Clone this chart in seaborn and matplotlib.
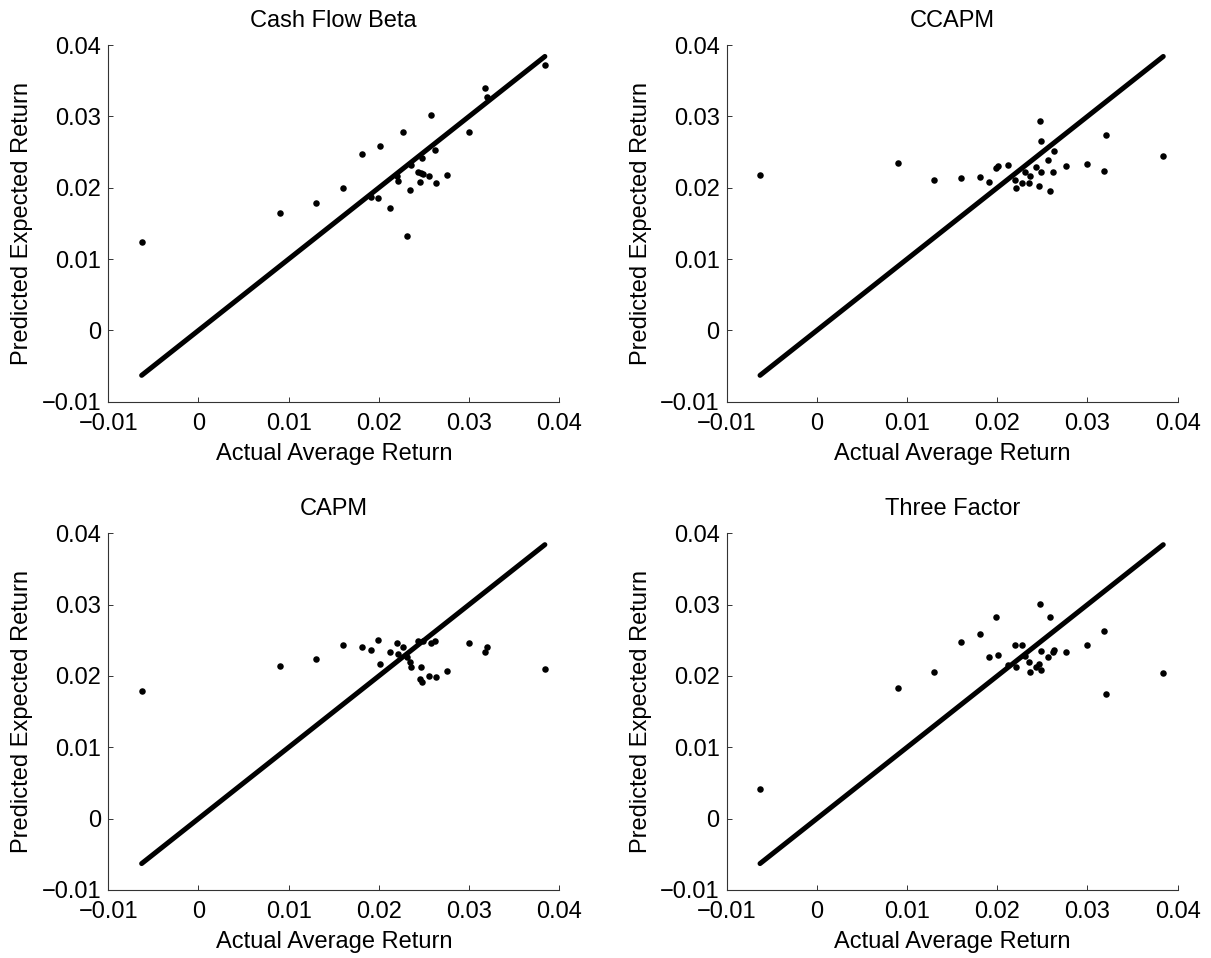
import numpy as np
import pandas as pd
import seaborn as sns
import matplotlib.pyplot as plt

# actual average returns (same portfolios in every panel)
actual = [-0.0063, 0.0090, 0.0130, 0.0160, 0.0181, 0.0191, 0.0199, 0.0201, 0.0212, 0.0220,
          0.0221, 0.0227, 0.0231, 0.0235, 0.0236, 0.0243, 0.0246, 0.0247, 0.0248, 0.0249,
          0.0256, 0.0258, 0.0262, 0.0263, 0.0276, 0.0300, 0.0318, 0.0320, 0.0384]

# predicted expected returns by model
cash_flow_beta = [0.0124, 0.0164, 0.0178, 0.0199, 0.0247, 0.0187, 0.0186, 0.0258, 0.0172, 0.0216,
                  0.0209, 0.0278, 0.0132, 0.0197, 0.0232, 0.0222, 0.0208, 0.0220, 0.0241, 0.0219,
                  0.0216, 0.0302, 0.0253, 0.0206, 0.0218, 0.0278, 0.0340, 0.0327, 0.0372]
ccapm = [0.0218, 0.0234, 0.0211, 0.0213, 0.0215, 0.0208, 0.0227, 0.0230, 0.0232, 0.0211,
         0.0200, 0.0207, 0.0222, 0.0206, 0.0216, 0.0229, 0.0203, 0.0293, 0.0222, 0.0265,
         0.0239, 0.0196, 0.0222, 0.0252, 0.0230, 0.0233, 0.0223, 0.0274, 0.0244]
capm = [0.0179, 0.0214, 0.0224, 0.0244, 0.0241, 0.0236, 0.0250, 0.0217, 0.0233, 0.0246,
        0.0231, 0.0240, 0.0227, 0.0220, 0.0213, 0.0249, 0.0196, 0.0212, 0.0192, 0.0249,
        0.0200, 0.0246, 0.0249, 0.0199, 0.0207, 0.0246, 0.0234, 0.0240, 0.0210]
three_factor = [0.0042, 0.0183, 0.0205, 0.0248, 0.0259, 0.0227, 0.0282, 0.0229, 0.0215, 0.0244,
                0.0213, 0.0243, 0.0228, 0.0220, 0.0205, 0.0213, 0.0217, 0.0301, 0.0209, 0.0235,
                0.0227, 0.0282, 0.0233, 0.0237, 0.0233, 0.0244, 0.0263, 0.0175, 0.0204]

titles = ['Cash Flow Beta', 'CCAPM', 'CAPM', 'Three Factor']
models = [cash_flow_beta, ccapm, capm, three_factor]
ticks = [-0.01, 0, 0.01, 0.02, 0.03, 0.04]
tick_labels = ['\u22120.01', '0', '0.01', '0.02', '0.03', '0.04']

sns.set_style('ticks')
plt.rcParams['font.family'] = ['Liberation Sans', 'DejaVu Sans']
plt.rcParams['font.size'] = 17
plt.rcParams['text.color'] = 'black'
plt.rcParams['axes.labelcolor'] = 'black'

fig, axes = plt.subplots(2, 2, figsize=(12.11, 9.58), dpi=100)
fig.subplots_adjust(left=0.0894, right=0.9725, top=0.953, bottom=0.071,
                    wspace=0.371, hspace=0.3686)

for ax, title, pred in zip(axes.flat, titles, models):
    df = pd.DataFrame({'actual': actual, 'predicted': pred})
    lo, hi = min(actual), max(actual)
    sns.lineplot(x=[lo, hi], y=[lo, hi], ax=ax, color='black', linewidth=3.6)
    sns.scatterplot(data=df, x='actual', y='predicted', ax=ax, color='black',
                    s=22, linewidth=0, zorder=3)
    ax.set_xlim(-0.01, 0.04)
    ax.set_ylim(-0.01, 0.04)
    ax.set_xticks(ticks)
    ax.set_xticklabels(tick_labels)
    ax.set_yticks(ticks)
    ax.set_yticklabels(tick_labels)
    ax.tick_params(direction='in', length=3.5, width=0.7, color='#333333',
                   labelcolor='black', labelsize=17, bottom=True, left=True)
    ax.tick_params(axis='x', pad=8)
    ax.tick_params(axis='y', pad=5)
    for side in ['top', 'right']:
        ax.spines[side].set_visible(False)
    for side in ['left', 'bottom']:
        ax.spines[side].set_color('#333333')
        ax.spines[side].set_linewidth(0.8)
    ax.set_title(title, fontsize=17, pad=13, color='black')
    ax.set_xlabel('Actual Average Return', fontsize=17, labelpad=6)
    ax.set_ylabel('Predicted Expected Return', fontsize=17, labelpad=6)

fig.savefig('out.png', dpi=100)
